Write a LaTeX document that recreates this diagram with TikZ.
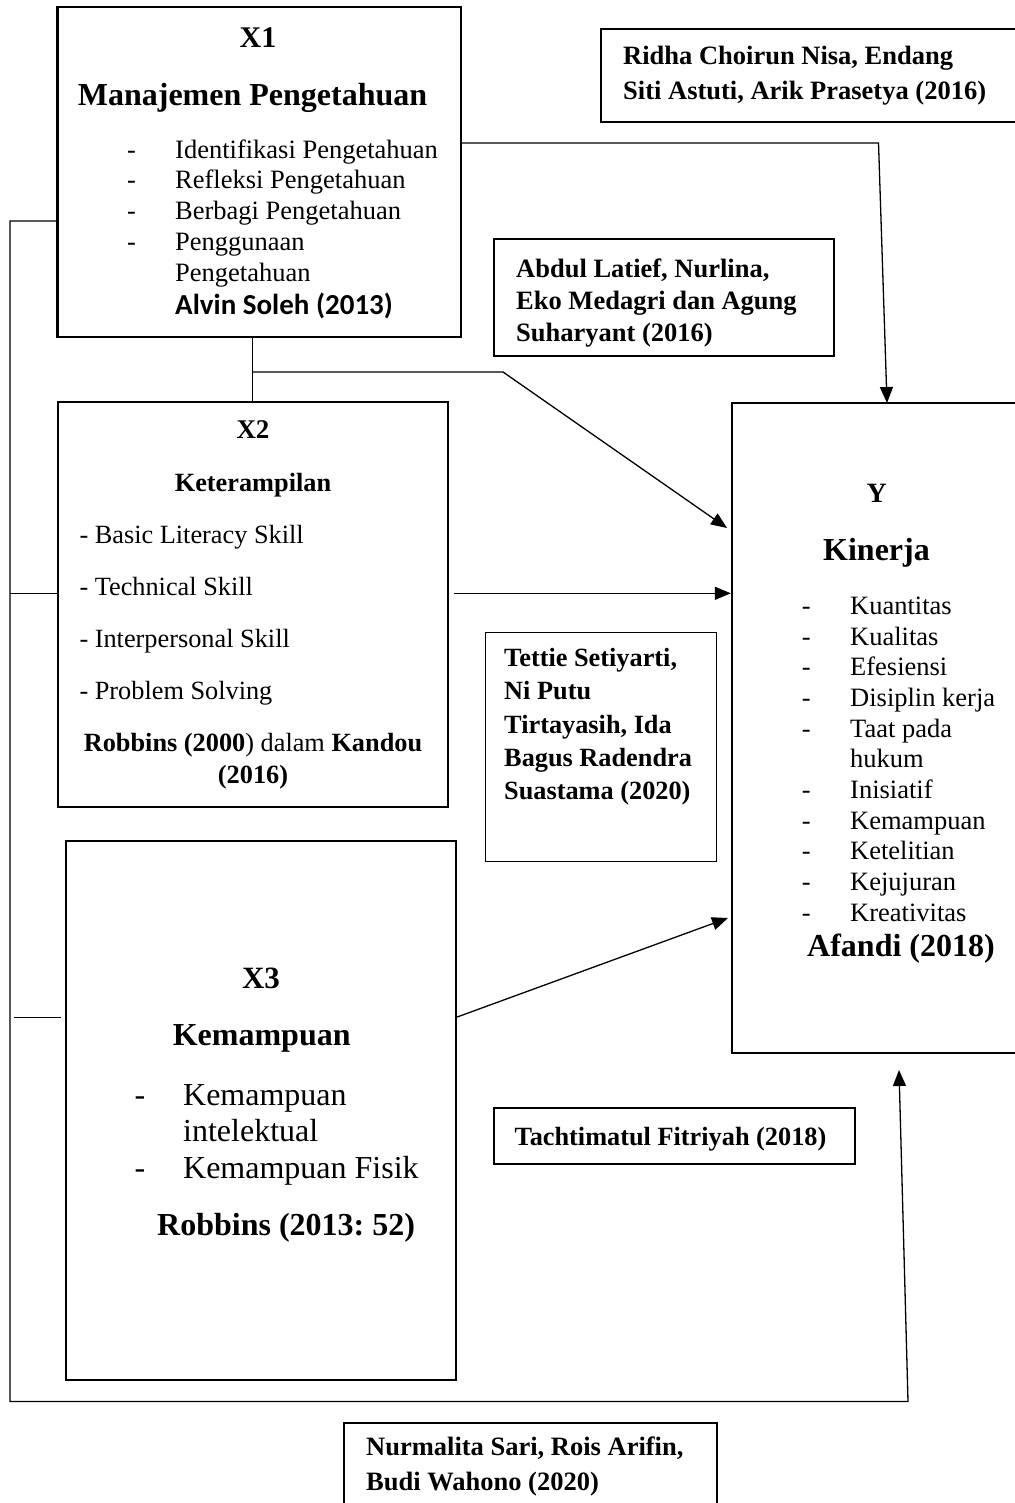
\documentclass[tikz,border=0pt]{standalone}
\usepackage{fontspec}
\setmainfont{Liberation Serif}
\newfontfamily\calibrifont{Carlito}
\usetikzlibrary{arrows.meta}
\frenchspacing

\tikzset{
  box/.style={draw, line width=2.3pt, inner sep=0pt},
  thinbox/.style={draw, line width=1pt, inner sep=0pt},
  conn/.style={line width=1.3pt},
  arr/.style={conn, -{Triangle[length=16pt,width=13pt]}},
  txt/.style={anchor=base west, inner sep=0pt},
  ctxt/.style={anchor=base, inner sep=0pt}
}

\begin{document}
\begin{tikzpicture}[x=1pt,y=-1pt]
\useasboundingbox (0,0) rectangle (1014,1503);

% boxes
\node[box, minimum width=403.5pt, minimum height=330pt] (x1) at (259.25,172) {};
\node[box, minimum width=429pt, minimum height=93pt] (ridha) at (815.5,75.5) {};
\node[box, minimum width=340pt, minimum height=116.5pt] (abdul) at (664,297.5) {};
\node[box, minimum width=390pt, minimum height=405pt] (x2) at (253,604.5) {};
\node[thinbox, minimum width=231pt, minimum height=229pt] (tettie) at (600.5,746.5) {};
\node[box, minimum width=308pt, minimum height=650pt] (y) at (886,728) {};
\node[box, minimum width=390pt, minimum height=539pt] (x3) at (261,1110.5) {};
\node[box, minimum width=361pt, minimum height=56pt] (tacht) at (674.5,1136) {};
\node[box, minimum width=373pt, minimum height=117pt] (nurm) at (530.5,1481.5) {};

% X1
\node[ctxt, font=\bfseries\fontsize{30}{36}\selectfont] (x1id) at (258,48) {X1};
\node[ctxt, font=\bfseries\fontsize{32}{38}\selectfont] (x1name) at (252.5,106) {Manajemen Pengetahuan};
\node[txt, font=\fontsize{26.5}{30.7}\selectfont] (x1list) at (127,158.3) {\begin{tabular}[t]{@{}p{48pt}@{}l@{}}
-&Identifikasi Pengetahuan\\
-&Refleksi Pengetahuan\\
-&Berbagi Pengetahuan\\
-&Penggunaan\\
&Pengetahuan
\end{tabular}};
\node[txt, font=\calibrifont\bfseries\fontsize{29}{34}\selectfont] (x1ref) at (175,315) {Alvin Soleh (2013)};

% references
\node[txt, font=\bfseries\fontsize{26.5}{35}\selectfont] (ridhatxt) at (623,65) {\begin{tabular}[t]{@{}l@{}}
Ridha Choirun Nisa, Endang\\
Siti Astuti, Arik Prasetya (2016)
\end{tabular}};
\node[txt, font=\bfseries\fontsize{26.5}{32.2}\selectfont] (abdultxt) at (516,277.5) {\begin{tabular}[t]{@{}l@{}}
Abdul Latief, Nurlina,\\
Eko Medagri dan Agung\\
Suharyant (2016)
\end{tabular}};

% X2
\node[ctxt, font=\bfseries\fontsize{27}{32}\selectfont] (x2id) at (253,438) {X2};
\node[ctxt, font=\bfseries\fontsize{26.3}{32}\selectfont] (x2name) at (253,491.7) {Keterampilan};
\node[txt, font=\fontsize{26.3}{52}\selectfont] (x2list) at (79.3,543.3) {\begin{tabular}[t]{@{}l@{}}
- Basic Literacy Skill\\
- Technical Skill\\
- Interpersonal Skill\\
- Problem Solving
\end{tabular}};
\node[ctxt, font=\fontsize{26.3}{31.6}\selectfont] (x2ref) at (253,751.7) {\begin{tabular}[t]{@{}c@{}}
\textbf{Robbins (2000}) dalam \textbf{Kandou}\\
\textbf{(2016)}
\end{tabular}};

\node[txt, font=\bfseries\fontsize{26.3}{33.2}\selectfont] (tettietxt) at (504,666.7) {\begin{tabular}[t]{@{}l@{}}
Tettie Setiyarti,\\
Ni Putu\\
Tirtayasih, Ida\\
Bagus Radendra\\
Suastama (2020)
\end{tabular}};

% Y
\node[ctxt, font=\bfseries\fontsize{28}{34}\selectfont] (yid) at (876.7,502.8) {Y};
\node[ctxt, font=\bfseries\fontsize{32}{38}\selectfont] (yname) at (876.5,560.8) {Kinerja};
\node[txt, font=\fontsize{26.5}{30.66}\selectfont] (ylist) at (801.7,614.4) {\begin{tabular}[t]{@{}p{48.3pt}@{}l@{}}
-&Kuantitas\\
-&Kualitas\\
-&Efesiensi\\
-&Disiplin kerja\\
-&Taat pada\\
&hukum\\
-&Inisiatif\\
-&Kemampuan\\
-&Ketelitian\\
-&Kejujuran\\
-&Kreativitas
\end{tabular}};
\node[txt, font=\bfseries\fontsize{32}{38}\selectfont] (yref) at (807,956) {Afandi (2018)};

% X3
\node[ctxt, font=\bfseries\fontsize{31}{37}\selectfont] (x3id) at (261,988.4) {X3};
\node[ctxt, font=\bfseries\fontsize{32}{38}\selectfont] (x3name) at (261.7,1045.8) {Kemampuan};
\node[txt, font=\fontsize{32}{36.5}\selectfont] (x3list) at (134.5,1105) {\begin{tabular}[t]{@{}p{48.5pt}@{}l@{}}
-&Kemampuan\\
&intelektual\\
-&Kemampuan Fisik
\end{tabular}};
\node[txt, font=\bfseries\fontsize{32}{38}\selectfont] (x3ref) at (157,1235) {Robbins (2013: 52)};

\node[txt, font=\bfseries\fontsize{26.3}{32}\selectfont] (tachttxt) at (514.4,1145.3) {Tachtimatul Fitriyah (2018)};
\node[txt, font=\bfseries\fontsize{26.5}{35}\selectfont] (nurmtxt) at (366,1455) {\begin{tabular}[t]{@{}l@{}}
Nurmalita Sari, Rois Arifin,\\
Budi Wahono (2020)
\end{tabular}};

% connectors
\coordinate (k1) at (878.5,143);
\coordinate (k1end) at (887,403);
\coordinate (k2) at (252.5,372);
\coordinate (k3) at (503,372);
\coordinate (k4) at (727,528);
\coordinate (k5) at (600,593.3);
\coordinate (k6) at (460,1017);
\coordinate (k7) at (728,918);
\coordinate (k8) at (14,1017.3);
\coordinate (b1) at (10,221);
\coordinate (b2) at (10,1401.5);
\coordinate (b3) at (908,1401.5);
\coordinate (yb) at (899,1070);

\draw[arr] (x1.east |- k1) -- (k1) -- (k1end);
\draw[conn] (x1.south -| k2) -- (x2.north -| k2);
\draw[arr] (k2) -- (k3) -- (k4);
\draw[arr] ([xshift=5pt]x2.east |- k5) -- (y.west |- k5);
\draw[arr] (x3.east |- k6) -- (k7);
\draw[arr] (x1.west |- b1) -- (b1) -- (b2) -- (b3) -- (yb);
\draw[conn] (b1 |- k5) -- (x2.west |- k5);
\draw[conn] (k8) -- ([xshift=-4pt]x3.west |- k8);
\end{tikzpicture}
\end{document}
